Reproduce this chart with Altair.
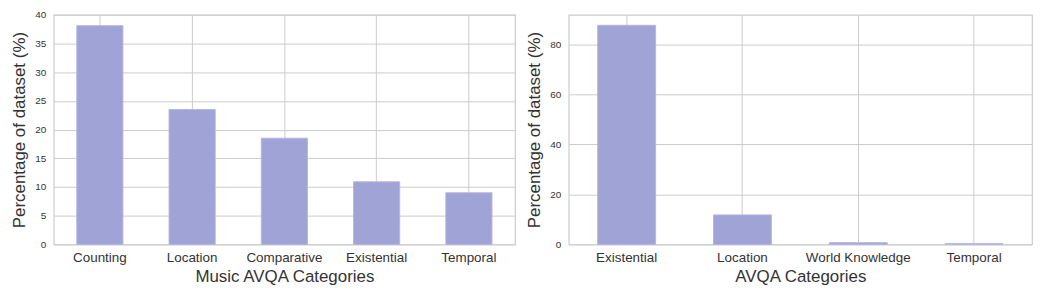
import altair as alt
import pandas as pd

music_cats = ["Counting", "Location", "Comparative", "Existential", "Temporal"]
music_vals = [38.1, 23.5, 18.5, 10.9, 9.0]

avqa_cats = ["Existential", "Location", "World Knowledge", "Temporal"]
avqa_vals = [87.6, 11.8, 0.7, 0.3]

BAR = "#a0a3d5"
FONT = "Liberation Sans"


def panel(cats, vals, xtitle, ymax, ystep, w):
    df = pd.DataFrame({"cat": cats, "val": vals})
    ticks = list(range(0, int(ymax) + 1, ystep))
    return alt.Chart(df).mark_bar(color=BAR, stroke="#b4b6de", strokeWidth=1).encode(
        x=alt.X("cat:N", sort=cats, title=xtitle,
                scale=alt.Scale(paddingInner=0.5, paddingOuter=0.25),
                axis=alt.Axis(labelAngle=0, labelFontSize=13.5, titleFontSize=17,
                              labelColor="#333333", titleColor="#333333",
                              titleFontWeight="normal",
                              ticks=False, grid=True, bandPosition=0.5,
                              labelPadding=6, titlePadding=5, domain=False)),
        y=alt.Y("val:Q", title="Percentage of dataset (%)",
                scale=alt.Scale(domain=[0, ymax], nice=False),
                axis=alt.Axis(values=ticks, labelFontSize=10, titleFontSize=17,
                              labelColor="#333333", titleColor="#333333",
                              titleFontWeight="normal",
                              ticks=False, grid=True, labelPadding=8, titlePadding=6,
                              domain=False)),
    ).properties(width=w, height=231)


left = panel(music_cats, music_vals, "Music AVQA Categories", 40, 5, 464)
right = panel(avqa_cats, avqa_vals, "AVQA Categories", 91.8, 20, 466)

chart = alt.hconcat(left, right, spacing=9).properties(
    padding={"left": 2, "top": 0, "right": 0, "bottom": 0}
).configure(font=FONT).configure_view(
    stroke="#cccccc", strokeWidth=1.2
).configure_axis(
    gridColor="#cccccc", gridWidth=1
)

chart.save("out.html", embed_options={"renderer": "svg", "actions": False})
